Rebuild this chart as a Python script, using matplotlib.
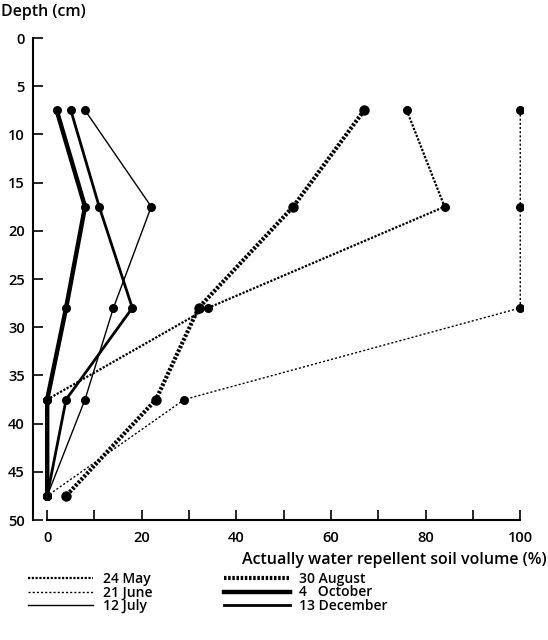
import matplotlib
matplotlib.use("Agg")
import matplotlib.pyplot as plt

plt.rcParams['font.family'] = ['Open Sans', 'DejaVu Sans']
plt.rcParams['font.weight'] = 'semibold'

depth = [7.5, 17.5, 28, 37.5, 47.5]

may_24 = [76, 84, 34, 0, 0]
june_21 = [100, 100, 100, 29, 0]
july_12 = [8, 22, 14, 8, 0]
aug_30 = [67, 52, 32, 23, 4]
oct_4 = [2, 8, 4, 0, 0]
dec_13 = [5, 11, 18, 4, 0]

labels = ["24 May", "21 June", "12 July", "30 August", "4   October", "13 December"]
xticks = list(range(0, 101, 10))
xticklabels = ["0", "", "20", "", "40", "", "60", "", "80", "", "100"]
yticks = list(range(0, 51, 5))

series = [may_24, june_21, july_12, aug_30, oct_4, dec_13]
styles = [
    dict(lw=1.6, ls=(0, (1.0, 0.7)), ms=6.5),
    dict(lw=1.0, ls=(0, (1.5, 1.5)), ms=6.5),
    dict(lw=1.0, ls="-", ms=6.5),
    dict(lw=3.0, ls=(0, (0.6, 0.4)), ms=7.5),
    dict(lw=3.2, ls="-", ms=6.5),
    dict(lw=2.0, ls="-", ms=6.5),
]

fig = plt.figure(figsize=(5.48, 6.4), dpi=100)
ax = fig.add_axes([0.0602, 0.1875, 0.8935, 0.7531])

handles = []
for vals, st, lab in zip(series, styles, labels):
    ax.plot(vals, depth, color="black", lw=st["lw"], ls=st["ls"],
            marker="o", ms=st["ms"], markeredgewidth=0)
    h, = ax.plot([], [], color="black", lw=st["lw"], ls=st["ls"], label=lab)
    handles.append(h)

ax.set_xlim(-3, 100.5)
ax.set_ylim(50, 0)
ax.set_xticks(xticks)
ax.set_xticklabels(xticklabels)
ax.set_yticks(yticks)
ax.tick_params(direction="in", length=7, width=1.2, labelsize=10.5, colors="black")
ax.tick_params(axis="x", pad=8)
ax.tick_params(axis="y", pad=6)
for s in ["top", "right"]:
    ax.spines[s].set_visible(False)
ax.spines["left"].set_linewidth(1.5)
ax.spines["bottom"].set_linewidth(1.5)
ax.spines["bottom"].set_bounds(0, 100)

fig.text(0.002, 0.981, "Depth (cm)", fontsize=11.5, va="center", ha="left")
fig.text(0.997, 0.125, "Actually water repellent soil volume (%)",
         fontsize=11.5, va="center", ha="right")

fig.legend(handles=handles, ncol=2, loc="upper left",
           bbox_to_anchor=(0.038, 0.117), frameon=False, fontsize=10,
           handlelength=4.7, handletextpad=0.7, labelspacing=-0.05,
           columnspacing=5.2, borderpad=0)

fig.savefig("out.png", dpi=100)
